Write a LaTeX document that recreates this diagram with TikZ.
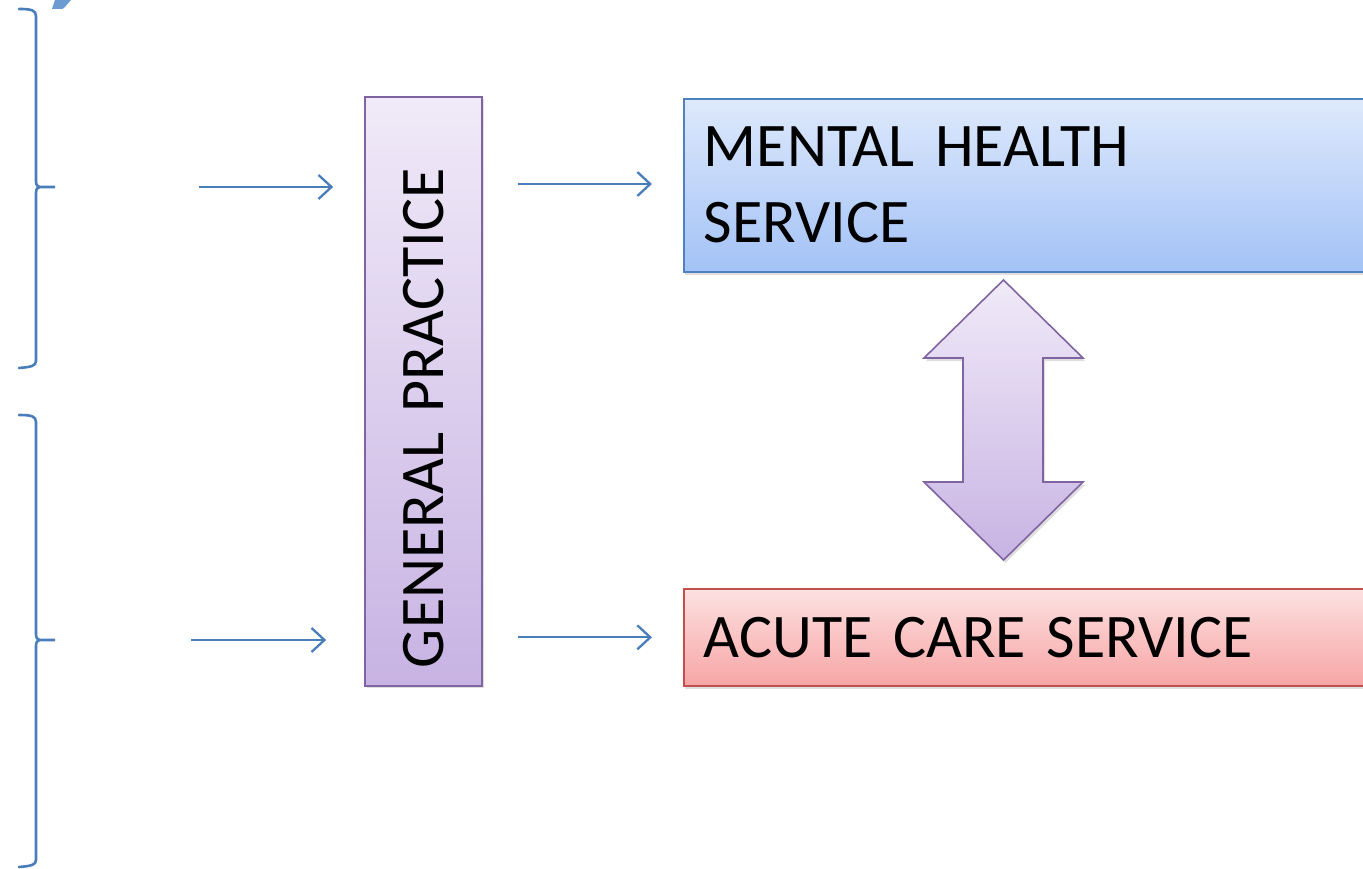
\documentclass[tikz,border=0pt]{standalone}
\usepackage{fontspec}
\setmainfont{Carlito}
\usetikzlibrary{arrows.meta,shadows}

\tikzset{
  brace/.style={draw=braceblue, line width=2.6pt, line cap=round},
  flow/.style={draw=braceblue, line width=2.3pt, -{Straight Barb[length=13pt,width=24pt,line width=2.3pt]}},
  service/.style={draw, line width=1.6pt, anchor=north west, minimum width=700pt,
    text width=660pt, align=left, inner xsep=17pt,
    font=\fontsize{62}{76}\selectfont,
    drop shadow={opacity=0.25, shadow xshift=1pt, shadow yshift=-3pt}},
}
\definecolor{braceblue}{HTML}{4A7EBB}
\definecolor{blobblue}{HTML}{6C9BD2}
\definecolor{purpleline}{HTML}{8064A2}
\definecolor{purplelight}{HTML}{F0EAF8}
\definecolor{purpledark}{HTML}{C8B3E3}
\definecolor{bluelight}{HTML}{DEE9FC}
\definecolor{bluedark}{HTML}{A3C2F6}
\definecolor{blueline}{HTML}{4F81BD}
\definecolor{redlight}{HTML}{FDE1E1}
\definecolor{reddark}{HTML}{F7A5A5}
\definecolor{redline}{HTML}{C0504D}

\begin{document}
\begin{tikzpicture}[x=1pt,y=-1pt]
        \clip (0,0) rectangle (1363,869);
        \fill[white] (0,0) rectangle (1363,869);
        % draw blue piece at the top edge
        \fill[blobblue] (55,0) -- (71,0) -- (65,7) .. controls (63,9) .. (59,9) -- (52,9) -- cycle;
        % draw braces
        \draw[brace] (19,9) .. controls (31,9) and (36,10) .. (36,16) -- (36,181)
          .. controls (36,186) and (38,187) .. (42,187) -- (55,187) -- (42,187)
          .. controls (38,187) and (36,188) .. (36,193) -- (36,361)
          .. controls (36,366) and (31,367) .. (19,368);
        \draw[brace] (19,415) .. controls (31,415) and (36,416) .. (36,422) -- (36,634)
          .. controls (36,639) and (38,640) .. (42,640) -- (55,640) -- (42,640)
          .. controls (38,640) and (36,641) .. (36,646) -- (36,860)
          .. controls (36,865) and (31,866) .. (19,867);
        % draw nodes
        \node[draw=purpleline, line width=1.6pt, rotate=90, top color=purplelight, bottom color=purpledark,
          minimum width=589pt, minimum height=117pt, text width=553pt, align=left, inner xsep=18pt,
          font=\fontsize{62}{76}\selectfont,
          drop shadow={opacity=0.25, shadow xshift=2pt, shadow yshift=-2pt}]
          (gp) at (423.5,391.5) {GENERAL PRACTICE};
        \node[service, draw=blueline, top color=bluelight, bottom color=bluedark, minimum height=173pt]
          (mhs) at (683,98) {MENTAL HEALTH\\SERVICE};
        \node[service, draw=redline, top color=redlight, bottom color=reddark, minimum height=97pt]
          (acs) at (683,588) {ACUTE CARE SERVICE};
        % draw double arrow between services
        \draw[draw=purpleline, line width=1.6pt, line join=miter, top color=purplelight, bottom color=purpledark,
          drop shadow={opacity=0.25, shadow xshift=2pt, shadow yshift=-3pt}]
          (1003.5,280) -- (1083,358) -- (1043,358) -- (1043,482) -- (1083,482) -- (1003.5,560)
          -- (924,482) -- (963,482) -- (963,358) -- (924,358) -- cycle;
        % draw connectors
        \coordinate (in1) at (199,187);
        \coordinate (in2) at (191,640);
        \draw[flow, shorten >=31pt] (in1) -- (in1 -| gp.north);
        \draw[flow, shorten >=38pt] (in2) -- (in2 -| gp.north);
        \draw[flow, shorten <=35pt, shorten >=31pt] (gp.south |- 0,184) -- (mhs.west |- 0,184);
        \draw[flow, shorten <=35pt, shorten >=31pt] (gp.south |- acs.west) -- (acs.west);
\end{tikzpicture}
\end{document}
